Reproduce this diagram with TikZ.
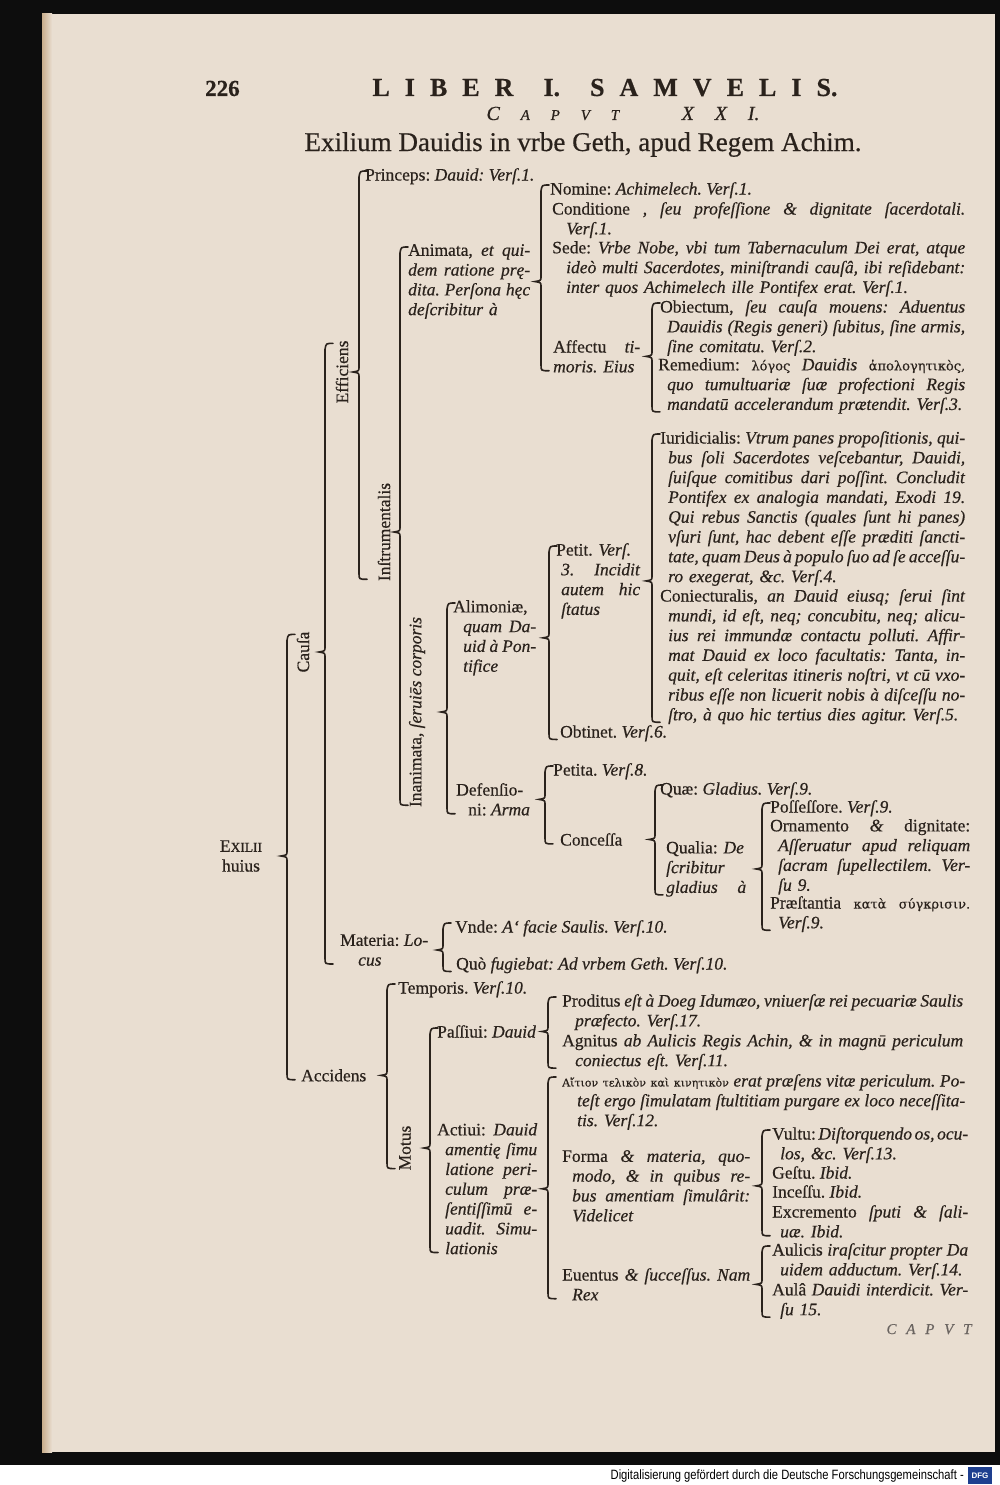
\documentclass[tikz,border=0pt]{standalone}
\usepackage{fontspec}
\usepackage{graphicx}
\setmainfont{Liberation Serif}[FakeBold=0.5]
\newfontfamily\grk{DejaVu Serif}[FakeBold=0.3]
\newfontfamily\footfont{Liberation Sans}
\usetikzlibrary{calc}
\definecolor{ink}{HTML}{2A221C}
\definecolor{paper}{HTML}{E9DED1}
\definecolor{paperedge}{HTML}{C9AE8C}
\definecolor{dfgblue}{HTML}{1E3F8F}
\newcommand\bodyfont{\fontsize{17.5}{19.8}\selectfont\frenchspacing}
\newcommand\gr[2][13]{{\grk\fontsize{#1}{19.8}\selectfont #2}}
% full justified line, and indented justified line (block width in \bw)
\newcommand\fl[1]{\leavevmode\hbox to \bw pt{\spaceskip=.25em plus 1fil minus .12em\relax #1}}
\newcommand\hl[2]{\leavevmode\hspace*{#1pt}\hbox to \dimexpr\bw pt-#1pt\relax{\spaceskip=.25em plus 1fil minus .12em\relax #2}}
% brace: bar x, top anchor, parent node, bottom anchor
\newcommand\brk[4]{%
  \draw[brk] let \p1=(#2), \p2=(#3), \p3=(#4) in
    (#1pt+8pt,\y1-3pt) .. controls (#1pt+1pt,\y1-3pt) .. (#1pt,\y1-9pt)
    -- (#1pt,\y2+5pt) .. controls (#1pt,\y2+1pt) .. (#1pt-6pt,\y2)
    .. controls (#1pt,\y2-1pt) .. (#1pt,\y2-5pt)
    -- (#1pt,\y3+8pt) .. controls (#1pt,\y3+2pt) .. (#1pt+8pt,\y3+2pt);}

\begin{document}
\begin{tikzpicture}[x=1pt,y=-1pt,
  txt/.style={anchor=north west, inner sep=0pt, align=left, yshift=12pt, font=\bodyfont, text=ink},
  jst/.style={txt, text width=#1pt, /utils/exec={\def\bw{#1}}},
  lbl/.style={rotate=90, inner sep=0pt, font=\bodyfont, text=ink},
  brk/.style={draw=ink, line width=1.6pt, line cap=round},
]
\useasboundingbox (0,0) rectangle (1000,1485);

% page and scan frame
\fill[black!95] (0,0) rectangle (1000,1465);
\fill[white] (0,1465) rectangle (1000,1485);
\fill[paper] (42,14) rectangle (995,1452);
\shade[left color=paperedge, right color=paper] (42,14) rectangle (52,1452);

% header
\node[anchor=base west, inner sep=0pt, text=ink, font=\fontsize{23}{23}\selectfont\bfseries] (pgno) at (205,96) {226};
\node[anchor=base, inner sep=0pt, text=ink, font=\fontsize{26}{26}\selectfont\bfseries] (liber) at (605,96)
  {\makebox[465pt][s]{L\hfill I\hfill B\hfill E\hfill R\hfill\hfill I.\hfill\hfill S\hfill A\hfill M\hfill V\hfill E\hfill L\hfill I\hfill S.}};
\node[anchor=base, inner sep=0pt, text=ink, font=\fontsize{20}{20}\selectfont\itshape] (caput) at (623,120)
  {\makebox[273pt][s]{C\hfill{\fontsize{15}{15}\selectfont A\hfill P\hfill V\hfill T}\hfill\hfill\hfill X\hfill X\hfill I.}};
\node[anchor=base, inner sep=0pt, text=ink, font=\fontsize{26}{26}\selectfont] (title) at (583,151)
  {\resizebox{557pt}{!}{Exilium Dauidis in vrbe Geth, apud Regem Achim.}};

% root and vertical labels
\node[inner sep=0pt, align=center, text=ink, font=\bodyfont] (exil) at (241,856)
  {E{\fontsize{13.5}{19.8}\selectfont XILII}\\huius};
\node[lbl] (causa) at (303,652) {Cauſa};
\node[lbl] (eff) at (342,372) {Efficiens};
\node[lbl] (instr) at (384,532) {Inſtrumentalis};
\node[lbl] (inan) at (417,712) {Inanimata, \textit{ſeruiēs corporis}};
\node[lbl] (motus) at (405,1148) {Motus};

% Efficiens
\node[txt] (princ) at (365,180) {Princeps: \textit{Dauid: Verſ.1.}};
\node[jst=122] (anim) at (408,256) {\fl{Animata, \textit{et qui-}}\\\fl{\textit{dem ratione prę-}}\\\fl{\textit{dita. Perſona hęc}}\\\textit{deſcribitur à}};
\node[txt] (nom) at (550,194) {Nomine: \textit{Achimelech. Verſ.1.}};
\node[jst=413] (cond) at (552,214) {\fl{Conditione , \textit{ſeu profeſſione \& dignitate ſacerdotali.}}\\\hspace*{14pt}\textit{Verſ.1.}};
\node[jst=413] (sede) at (552,253) {\fl{Sede: \textit{Vrbe Nobe, vbi tum Tabernaculum Dei erat, atque}}\\\hl{14}{\textit{ideò multi Sacerdotes, miniſtrandi cauſâ, ibi reſidebant:}}\\\hspace*{14pt}\textit{inter quos Achimelech ille Pontifex erat. Verſ.1.}};
\node[jst=87] (affectu) at (553,352) {\fl{Affectu \textit{ti-}}\\\textit{moris. Eius}};
\node[jst=305] (obiect) at (660,312) {\fl{Obiectum, \textit{ſeu cauſa mouens: Aduentus}}\\\hl{7}{\textit{Dauidis (Regis generi) ſubitus, ſine armis,}}\\\hspace*{7pt}\textit{ſine comitatu. Verſ.2.}};
\node[jst=307] (remed) at (658,370) {\fl{Remedium: \gr{λόγος} \textit{Dauidis} \gr{ἀπολογητικὸς,}}\\\hl{9}{\textit{quo tumultuariæ ſuæ profectioni Regis}}\\\hspace*{9pt}\textit{mandatū accelerandum prætendit. Verſ.3.}};

% Inanimata
\node[jst=305] (iurid) at (660,443) {\fl{Iuridicialis: \textit{Vtrum panes propoſitionis, qui-}}\\
  \hl{8}{\textit{bus ſoli Sacerdotes veſcebantur, Dauidi,}}\\
  \hl{8}{\textit{ſuiſque comitibus dari poſſint. Concludit}}\\
  \hl{8}{\textit{Pontifex ex analogia mandati, Exodi 19.}}\\
  \hl{8}{\textit{Qui rebus Sanctis (quales ſunt hi panes)}}\\
  \hl{8}{\textit{vſuri ſunt, hac debent eſſe præditi ſancti-}}\\
  \hl{8}{\textit{tate, quam Deus à populo ſuo ad ſe acceſſu-}}\\
  \hspace*{8pt}\textit{ro exegerat, \&c. Verſ.4.}};
\node[jst=305] (coniect) at (660,601) {\fl{Coniecturalis, \textit{an Dauid eiusq; ſerui ſint}}\\
  \hl{8}{\textit{mundi, id eſt, neq; concubitu, neq; alicu-}}\\
  \hl{8}{\textit{ius rei immundæ contactu polluti. Affir-}}\\
  \hl{8}{\textit{mat Dauid ex loco facultatis: Tanta, in-}}\\
  \hl{8}{\textit{quit, eſt celeritas itineris noſtri, vt cū vxo-}}\\
  \hl{8}{\textit{ribus eſſe non licuerit nobis à diſceſſu no-}}\\
  \hspace*{8pt}\textit{ſtro, à quo hic tertius dies agitur. Verſ.5.}};
\node[jst=84] (petit) at (556,555) {Petit. \textit{Verſ.}\\\hl{5}{\textit{3. Incidit}}\\\hl{5}{\textit{autem hic}}\\\hspace*{5pt}\textit{ſtatus}};
\node[txt] (obtin) at (560,737) {Obtinet. \textit{Verſ.6.}};
\node[jst=83] (alim) at (453,612) {Alimoniæ,\\\hl{10}{\textit{quam Da-}}\\\hl{10}{\textit{uid à Pon-}}\\\hspace*{10pt}\textit{tifice}};
\node[txt] (defens) at (456,795) {Defenſio-\\\hspace*{12pt}ni: \textit{Arma}};
\node[txt] (petita) at (553,775) {Petita. \textit{Verſ.8.}};
\node[txt] (conc) at (560,845) {Conceſſa};
\node[txt] (quae) at (660,794) {Quæ: \textit{Gladius. Verſ.9.}};
\node[jst=80] (qual) at (666,853) {Qualia: \textit{De}\\\textit{ſcribitur}\\\fl{\textit{gladius à}}};
\node[txt] (poss) at (770,812) {Poſſeſſore. \textit{Verſ.9.}};
\node[jst=200] (orn) at (770,831) {\fl{Ornamento \textit{\&} dignitate:}\\\hl{8}{\textit{Aſſeruatur apud reliquam}}\\\hl{8}{\textit{ſacram ſupellectilem. Ver-}}\\\hspace*{8pt}\textit{ſu 9.}};
\node[jst=200] (praest) at (770,908) {\fl{Præſtantia \gr{κατὰ σύγκρισιν.}}\\\hspace*{8pt}\textit{Verſ.9.}};

% Materia
\node[txt] (mat) at (340,946) {Materia: \textit{Lo-}\\\hspace*{18pt}\textit{cus}};
\node[txt] (unde) at (455,932) {Vnde: \textit{A` facie Saulis. Verſ.10.}};
\node[txt] (quo) at (456,969) {Quò \textit{fugiebat: Ad vrbem Geth. Verſ.10.}};

% Accidens
\node[txt] (accid) at (301,1081) {Accidens};
\node[txt] (temp) at (398,993) {Temporis. \textit{Verſ.10.}};
\node[txt] (pass) at (437,1037) {Paſſiui: \textit{Dauid}};
\node[jst=401] (prod) at (562,1006) {\fl{Proditus \textit{eſt à Doeg Idumæo, vniuerſæ rei pecuariæ Saulis}}\\\hspace*{13pt}\textit{præfecto. Verſ.17.}};
\node[jst=401] (agn) at (562,1046) {\fl{Agnitus \textit{ab Aulicis Regis Achin, \& in magnū periculum}}\\\hspace*{13pt}\textit{coniectus eſt. Verſ.11.}};
\node[jst=100] (act) at (437,1135) {\fl{Actiui: \textit{Dauid}}\\\hl{8}{\textit{amentię ſimu}}\\\hl{8}{\textit{latione peri-}}\\\hl{8}{\textit{culum præ-}}\\\hl{8}{\textit{ſentiſſimū e-}}\\\hl{8}{\textit{uadit. Simu-}}\\\hspace*{8pt}\textit{lationis}};
\node[jst=403] (aitia) at (562,1086) {\fl{\gr[11]{Αἴτιον τελικὸν καὶ κινητικὸν} \textit{erat præſens vitæ periculum. Po-}}\\\hl{15}{\textit{teſt ergo ſimulatam ſtultitiam purgare ex loco neceſſita-}}\\\hspace*{15pt}\textit{tis. Verſ.12.}};
\node[jst=188] (forma) at (562,1162) {\fl{Forma \textit{\& materia, quo-}}\\\hl{10}{\textit{modo, \& in quibus re-}}\\\hl{10}{\textit{bus amentiam ſimulârit:}}\\\hspace*{10pt}\textit{Videlicet}};
\node[jst=196] (vultu) at (772,1139) {\fl{Vultu: \textit{Diſtorquendo os, ocu-}}\\\hspace*{8pt}\textit{los, \&c. Verſ.13.}};
\node[txt] (gestu) at (772,1178) {Geſtu. \textit{Ibid.}};
\node[txt] (incessu) at (772,1197) {Inceſſu. \textit{Ibid.}};
\node[jst=196] (excr) at (772,1217) {\fl{Excremento \textit{ſputi \& ſali-}}\\\hspace*{8pt}\textit{uæ. Ibid.}};
\node[jst=188] (euent) at (562,1280) {\fl{Euentus \textit{\& ſucceſſus. Nam}}\\\hspace*{10pt}\textit{Rex}};
\node[jst=196] (aul1) at (772,1255) {\fl{Aulicis \textit{iraſcitur propter Da}}\\\hspace*{8pt}\textit{uidem adductum. Verſ.14.}};
\node[jst=196] (aul2) at (772,1295) {\fl{Aulâ \textit{Dauidi interdicit. Ver-}}\\\hspace*{8pt}\textit{ſu 15.}};

% catchword
\node[anchor=base, inner sep=0pt, text=ink!70, font=\fontsize{15}{15}\selectfont\itshape] (catch) at (929,1334)
  {\makebox[85pt][s]{C\hfill A\hfill P\hfill V\hfill T}};

% braces
\brk{287}{causa.east}{exil}{accid.south}
\brk{325}{eff.east}{causa}{mat.south}
\brk{359}{princ.north}{eff}{instr.west}
\brk{400}{anim.north}{instr}{inan.west}
\brk{541}{nom.north}{anim}{affectu.south}
\brk{652}{obiect.north}{affectu}{remed.south}
\brk{447}{alim.north}{inan}{defens.south}
\brk{549}{petit.north}{alim}{obtin.south}
\brk{652}{iurid.north}{petit}{coniect.south}
\brk{545}{petita.north}{defens}{conc.south}
\brk{655}{quae.north}{conc}{qual.south}
\brk{762}{poss.north}{qual}{praest.south}
\brk{443}{unde.north}{mat}{quo.south}
\brk{387}{temp.north}{accid}{motus.west}
\brk{430}{pass.north}{motus}{act.south}
\brk{548}{prod.north}{pass}{agn.south}
\brk{548}{aitia.north}{act}{euent.south}
\brk{762}{vultu.north}{forma}{excr.south}
\brk{762}{aul1.north}{euent}{aul2.south}

% footer
\node[anchor=east, inner sep=0pt, font=\footfont\fontsize{13.5}{14}\selectfont] (foot) at (964,1476)
  {\scalebox{0.83}[1]{Digitalisierung gefördert durch die Deutsche Forschungsgemeinschaft -}};
\node[fill=dfgblue, text=white, inner sep=0pt, minimum width=24pt, minimum height=17pt,
  font=\footfont\bfseries\fontsize{8}{8}\selectfont] (dfg) at (980,1475.5) {DFG};
\end{tikzpicture}
\end{document}
